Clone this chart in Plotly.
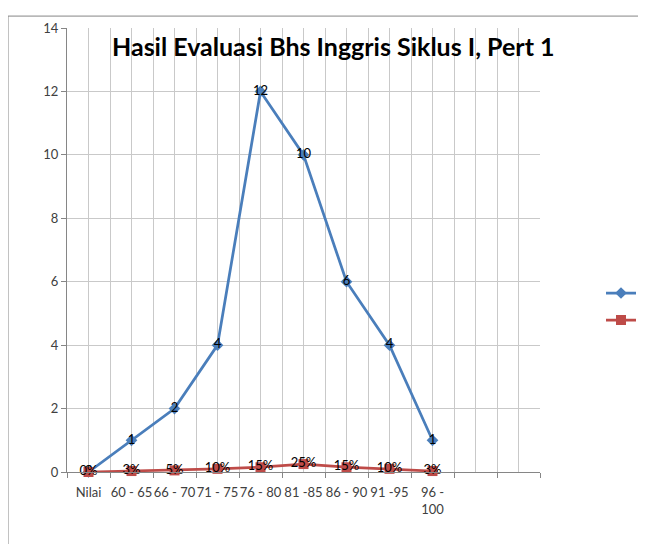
import plotly.graph_objects as go

categories = ["Nilai", "60 - 65", "66 - 70", "71 - 75", "76 - 80", "81 -85", "86 - 90", "91 -95", "96 -<br>100", "", ""]
jumlah = [0, 1, 2, 4, 12, 10, 6, 4, 1]
persen = [0.0, 0.03, 0.05, 0.10, 0.15, 0.25, 0.15, 0.10, 0.03]
jumlah_labels = ["0", "1", "2", "4", "12", "10", "6", "4", "1"]
persen_labels = ["0%", "3%", "5%", "10%", "15%", "25%", "15%", "10%", "3%"]

xpos = list(range(len(categories)))
xs = xpos[:len(jumlah)]

OFF = 8  # page body margin
W, H = 646 - OFF, 544 - OFF
L, R, T, B = 67 - OFF, 540 - OFF, 25 - OFF, 472 - OFF
pw, ph = R - L, B - T

def px(x):
    return (x - OFF - L) / pw

def py(y):
    return (B - (y - OFF)) / ph

def cy(y):
    return 1 - (y - OFF) / H

FONT = "Lato"

fig = go.Figure()
fig.add_trace(go.Scatter(
    x=xs, y=jumlah, mode="lines+markers+text", name="", legend="legend",
    line=dict(color="#4A7EBB", width=2.75),
    marker=dict(symbol="diamond", size=9, color="#4A7EBB"),
    text=jumlah_labels, textposition="middle center",
    textfont=dict(family=FONT, size=13, color="#000000"),
    cliponaxis=False,
))
fig.add_trace(go.Scatter(
    x=xs, y=persen, mode="lines+markers+text", name="", legend="legend2",
    line=dict(color="#BE4B48", width=2.75),
    marker=dict(symbol="square", size=10, color="#BE4B48"),
    text=persen_labels, textposition="middle center",
    textfont=dict(family=FONT, size=13, color="#000000"),
    cliponaxis=False,
))

leg_common = dict(xref="container", yref="container", xanchor="right", yanchor="middle",
                  font=dict(size=12), itemwidth=30, bgcolor="rgba(0,0,0,0)")
leg_x = 1 + 5 / W

fig.update_layout(
    width=W, height=H,
    margin=dict(l=L, r=W - R, t=T, b=H - B),
    paper_bgcolor="white", plot_bgcolor="white",
    font=dict(family=FONT, size=13, color="#404040"),
    showlegend=True,
    legend=dict(x=leg_x, y=cy(293), **leg_common),
    legend2=dict(x=leg_x, y=cy(320), **leg_common),
    xaxis=dict(
        range=[-0.5, len(categories) - 0.5],
        tickmode="array", tickvals=xpos, ticktext=categories,
        ticks="", showgrid=True, gridcolor="#C9C9C9", gridwidth=1,
        showline=True, linecolor="#868686", linewidth=1,
        tickfont=dict(family=FONT, size=13, color="#404040"),
        ticklabelstandoff=8, tickangle=0,
        minor=dict(tick0=-0.5, dtick=1, ticks="outside", ticklen=5,
                   tickcolor="#868686", showgrid=True, gridcolor="#C9C9C9"),
        zeroline=False, fixedrange=True,
    ),
    yaxis=dict(
        range=[0, 14], dtick=2, tick0=0,
        ticks="outside", ticklen=5, tickcolor="#868686",
        showgrid=True, gridcolor="#C9C9C9", gridwidth=1,
        showline=True, linecolor="#868686", linewidth=1,
        tickfont=dict(family=FONT, size=13, color="#404040"),
        zeroline=False, fixedrange=True,
    ),
    annotations=[dict(
        text="<b>Hasil Evaluasi Bhs Inggris Siklus I, Pert 1</b>",
        xref="paper", yref="paper", x=px(333), y=py(43),
        xanchor="center", yanchor="middle", showarrow=False,
        font=dict(family=FONT, size=25, color="#000000"),
    )],
    shapes=[
        dict(type="line", xref="paper", yref="paper",
             x0=px(8), y0=py(13), x1=px(660), y1=py(13),
             line=dict(color="#868686", width=1)),
        dict(type="line", xref="paper", yref="paper",
             x0=px(8), y0=py(13), x1=px(8), y1=py(560),
             line=dict(color="#868686", width=1)),
    ],
)

fig.write_html("out.html")
